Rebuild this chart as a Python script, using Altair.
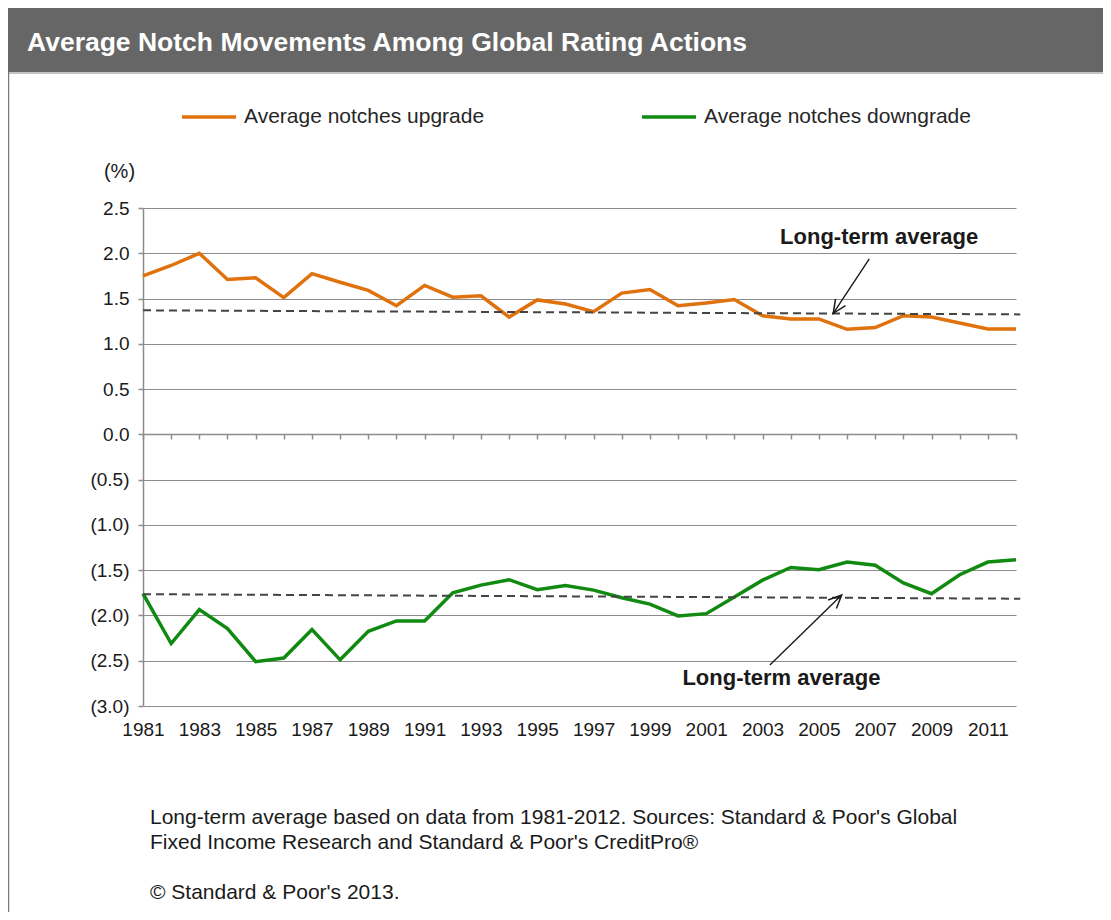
import altair as alt
import pandas as pd

# ---------------- data ----------------
years = list(range(1981, 2013))
upgrade = [1.75, 1.865, 2.0, 1.71, 1.73, 1.51, 1.775, 1.68, 1.59, 1.42, 1.645, 1.515,
           1.53, 1.295, 1.485, 1.44, 1.355, 1.56, 1.60, 1.42, 1.45, 1.49, 1.31, 1.275,
           1.275, 1.16, 1.18, 1.31, 1.295, 1.23, 1.165, 1.165]
downgrade = [-1.76, -2.31, -1.935, -2.145, -2.51, -2.47, -2.155, -2.49, -2.175, -2.06,
             -2.06, -1.75, -1.665, -1.605, -1.715, -1.67, -1.72, -1.805, -1.875, -2.005,
             -1.98, -1.795, -1.61, -1.47, -1.495, -1.41, -1.445, -1.64, -1.76, -1.55,
             -1.41, -1.385]
series_names = ["Average notches upgrade", "Average notches downgrade"]
series_colors = ["#E0720E", "#108A10"]

avg_years = [1981, 2012.15]
avg_up = [1.37, 1.325]
avg_down = [-1.765, -1.815]

ann_text = ["Long-term average", "Long-term average"]
ann_x = [2007.14, 2003.67]
ann_y = [2.18, -2.69]
arrow_x1 = [2006.79, 2003.26]
arrow_y1 = [1.937, -2.547]
arrow_x2 = [2005.51, 2005.81]
arrow_y2 = [1.337, -1.774]
arrow_angle = [213.5, 45.7]

y_ticks = [-3.0, -2.5, -2.0, -1.5, -1.0, -0.5, 0.0, 0.5, 1.0, 1.5, 2.0, 2.5]

title_text = "Average Notch  Movements Among Global Rating Actions"
foot_1 = "Long-term average based on data from 1981-2012. Sources: Standard & Poor's Global"
foot_2 = "Fixed Income Research and Standard & Poor's CreditPro®"
foot_3 = "© Standard & Poor's 2013."

# ---------------- tables ----------------
df = pd.DataFrame({
    "year": years * 2,
    "value": upgrade + downgrade,
    "series": [series_names[0]] * len(years) + [series_names[1]] * len(years),
})
avg_df = pd.DataFrame({
    "year": avg_years * 2,
    "value": avg_up + avg_down,
    "grp": ["up"] * 2 + ["down"] * 2,
})
ann_df = pd.DataFrame({"year": ann_x, "value": ann_y, "t": ann_text})
arr_df = pd.DataFrame({"year": arrow_x1, "value": arrow_y1, "x2": arrow_x2, "y2": arrow_y2,
                       "angle": arrow_angle})
head_df = pd.DataFrame({"year": arrow_x2, "value": arrow_y2, "angle": arrow_angle})

FONT = "Liberation Sans"
GRID = "#8c8c8c"
xs = alt.Scale(domain=[1981, 2012], nice=False)
ys = alt.Scale(domain=[-3, 2.5], nice=False)

x_axis = alt.Axis(
    values=years, format="d",
    labelExpr="(datum.value - 1981) % 2 == 0 ? datum.label : ''",
    offset=-272, tickSize=5, tickColor=GRID, tickWidth=1.5,
    domainColor=GRID, domainWidth=1.5, labelPadding=281,
    labelFont=FONT, labelFontSize=19, labelColor="#1a1a1a",
    grid=False, title=None, labelFlush=False, labelOverlap=False, labelBound=False,
)
y_axis = alt.Axis(
    values=y_ticks,
    labelExpr="datum.value < 0 ? '(' + format(-datum.value, '.1f') + ')' : format(datum.value, '.1f')",
    tickSize=5, tickColor=GRID, tickWidth=1.5, domainColor=GRID, domainWidth=1.5,
    grid=True, gridColor=GRID, gridWidth=1,
    labelPadding=9, labelFont=FONT, labelFontSize=19, labelColor="#1a1a1a",
    title="(%)", titleAngle=0, titleX=-24, titleY=-37, titleFont=FONT,
    titleFontSize=20, titleFontWeight="normal", titleColor="#1a1a1a",
    titleAlign="center", titleBaseline="middle",
)

X = alt.X("year:Q", scale=xs, axis=x_axis)
Y = alt.Y("value:Q", scale=ys, axis=y_axis)

lines = alt.Chart(df).mark_line(strokeWidth=3.5).encode(
    x=X, y=Y,
    color=alt.Color(
        "series:N",
        scale=alt.Scale(domain=series_names, range=series_colors),
        legend=alt.Legend(
            orient="none", legendX=37, legendY=-120, direction="horizontal",
            title=None, symbolType="stroke", symbolStrokeWidth=3.5, symbolSize=2916,
            labelFont=FONT, labelFontSize=21, labelColor="#262626", labelLimit=500,
            columnPadding=150, labelOffset=6,
        ),
    ),
    detail="series:N",
)

avg_lines = alt.Chart(avg_df).mark_line(
    color="#444444", strokeWidth=2, strokeDash=[8, 5], clip=False
).encode(x=X, y=Y, detail="grp:N")

ann_labels = alt.Chart(ann_df).mark_text(
    font=FONT, fontSize=22, fontWeight="bold", color="#1a1a1a",
    align="center", baseline="middle",
).encode(x=X, y=Y, text="t:N")

arrows = alt.Chart(arr_df).mark_rule(color="#1a1a1a", strokeWidth=1.4).encode(
    x=X, y=Y, x2="x2:Q", y2="y2:Q",
)
heads = alt.Chart(head_df).mark_point(
    shape="M -0.45 1 L 0 0 L 0.45 1", filled=False, stroke="#1a1a1a",
    strokeWidth=1.5, size=700, opacity=1,
).encode(x=X, y=Y, angle=alt.Angle("angle:Q", scale=None))

one = alt.Data(values=[{}])
title_bar = alt.Chart(one).mark_rect(color="#666666").encode(
    x=alt.value(-135), x2=alt.value(960), y=alt.value(-200), y2=alt.value(-136)
)
title_line = alt.Chart(one).mark_rule(color="#c4c4c4", strokeWidth=2).encode(
    x=alt.value(-135), x2=alt.value(960), y=alt.value(-135)
)
left_border = alt.Chart(one).mark_rule(color="#7a7a7a", strokeWidth=2.5).encode(
    x=alt.value(-135), y=alt.value(-136), y2=alt.value(704)
)
title_mark = alt.Chart(one).mark_text(
    font=FONT, fontSize=26.5, fontWeight="bold", color="white",
    align="left", baseline="middle",
).encode(x=alt.value(-116), y=alt.value(-165), text=alt.value(title_text))

def foot(txt, ypix):
    return alt.Chart(one).mark_text(
        font=FONT, fontSize=21, color="#1a1a1a", align="left", baseline="middle",
    ).encode(x=alt.value(7), y=alt.value(ypix), text=alt.value(txt))

chart = alt.layer(
    title_bar, title_line, left_border, title_mark,
    lines, avg_lines, arrows, heads, ann_labels,
    foot(foot_1, 610), foot(foot_2, 635), foot(foot_3, 685),
).properties(
    width=873, height=498,
    autosize=alt.AutoSizeParams(type="none"),
    padding={"left": 135, "top": 200, "right": 87, "bottom": 206},
    background="white",
).configure_view(stroke=None)

chart.save("out.html", embed_options={"renderer": "svg", "actions": False})
